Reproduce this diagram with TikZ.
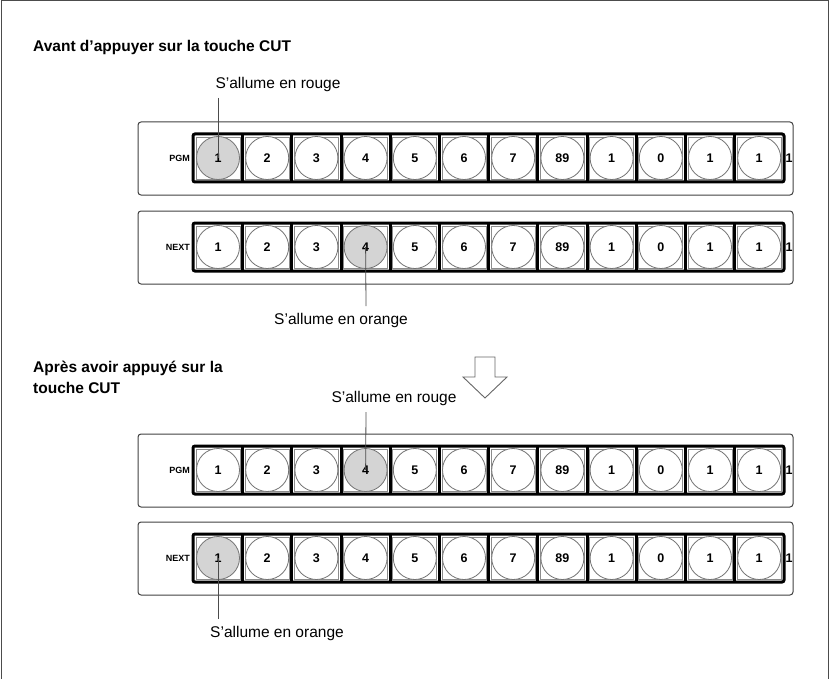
\documentclass[tikz,border=0pt]{standalone}
\usepackage{fontspec}
\setmainfont{Liberation Sans}
\begin{document}
\begin{tikzpicture}[x=1pt,y=-1pt,
  panel/.style={draw=black!75,line width=1pt,rounded corners=3pt},
  rowbox/.style={draw=black,line width=3pt,rounded corners=2pt},
  cell/.style={draw=black!45,line width=0.8pt},
  btn/.style={circle,draw=black!55,line width=0.8pt,minimum size=43pt,inner sep=0pt,font=\bfseries\fontsize{12.5}{12.5}\selectfont,fill=white},
  lit/.style={fill=black!17},
  lbl/.style={font=\fontsize{15.5}{18}\selectfont,inner sep=0pt},
  ttl/.style={font=\bfseries\fontsize{15.5}{21}\selectfont,inner sep=0pt,align=left,anchor=west},
  lead/.style={draw=black!70,line width=0.8pt},
  rowlbl/.style={font=\bfseries\fontsize{9}{9}\selectfont,anchor=east,inner sep=0pt}]
\useasboundingbox (0,0) rectangle (829,679);
\draw[black!70,line width=1pt] (1,679) -- (1,1) -- (828,1) -- (828,679);
\def\labels{1,2,3,4,5,6,7,89,1,0,1,1}
\newcommand{\mkrow}[4]{% name, y, rowlabel, lit index
  \draw[panel] (138,#2-36) rectangle (793,#2+37);
  \node[rowlbl] at (190,#2) {#3};
  \foreach \t [count=\i] in \labels {
    \pgfmathsetmacro{\cx}{218+49.2*(\i-1)}
    \draw[cell] (\cx-22,#2-21) rectangle (\cx+22,#2+21);
    \ifnum\i=#4
      \node[btn,lit] (#1-\i) at (\cx,#2) {\t};
    \else
      \node[btn] (#1-\i) at (\cx,#2) {\t};
    \fi
  }
  \draw[rowbox] (193,#2-24) rectangle (784,#2+24);
  \foreach \i in {1,...,11} {
    \pgfmathsetmacro{\sx}{218+49.2*(\i-1)+24.6}
    \draw[black,line width=3pt] (\sx,#2-24) -- (\sx,#2+24);
  }
  \node[font=\bfseries\fontsize{12.5}{12.5}\selectfont,inner sep=0pt] at (789,#2) {1};
}
\mkrow{a}{158}{PGM}{1}
\mkrow{b}{247}{NEXT}{4}
\mkrow{c}{470}{PGM}{4}
\mkrow{d}{558}{NEXT}{1}
\node[ttl] (t1) at (33,47) {Avant d’appuyer sur la touche CUT};
\node[ttl] (t2) at (33,377) {Après avoir appuyé sur la\\touche CUT};
\node[lbl] (l1) at (278,84) {S’allume en rouge};
\node[lbl] (l2) at (341,320) {S’allume en orange};
\node[lbl] (l3) at (394,398) {S’allume en rouge};
\node[lbl] (l4) at (277,633) {S’allume en orange};
\coordinate (p1) at (218,98); \draw[lead] (p1) -- (a-1.center);
\coordinate (p2) at (366,306); \draw[lead] (p2) -- (b-4.center);
\coordinate (p3) at (366,412); \draw[lead] (p3) -- (c-4.center);
\coordinate (p4) at (218,619); \draw[lead] (p4) -- (d-1.center);
\draw[black!60,line width=0.9pt,fill=white] (475,357) -- (495,357) -- (495,377) -- (507,377) -- (485,398) -- (463,377) -- (475,377) -- cycle;
\end{tikzpicture}
\end{document}
